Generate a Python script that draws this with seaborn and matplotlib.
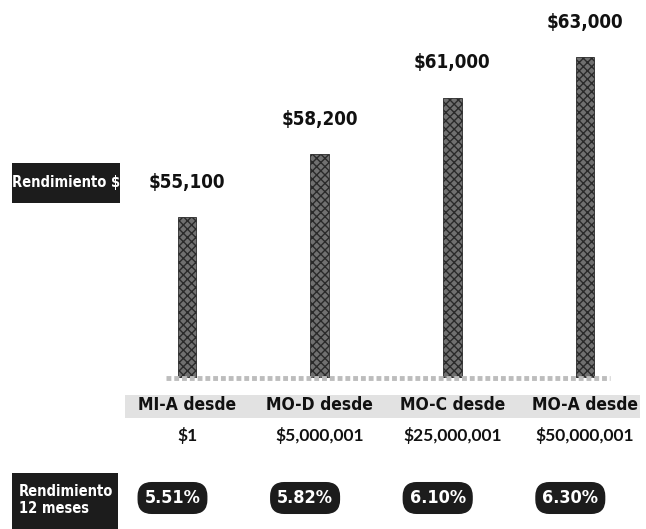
import matplotlib
matplotlib.use("Agg")
import matplotlib.pyplot as plt
import matplotlib.transforms as mtransforms
from matplotlib.patches import Rectangle
import pandas as pd
import seaborn as sns

# Data
plans = ["MI-A desde", "MO-D desde", "MO-C desde", "MO-A desde"]
plan_floor = ["$1", "$5,000,001", "$25,000,001", "$50,000,001"]
rendimiento = [55100, 58200, 61000, 63000]
rendimiento_labels = ["$55,100", "$58,200", "$61,000", "$63,000"]
rend_12m = ["5.51%", "5.82%", "6.10%", "6.30%"]

df = pd.DataFrame({"plan": plans, "rendimiento": rendimiento})

sns.set_style("white")
plt.rcParams["font.family"] = ["DejaVu Sans"]
narrow = dict(family="DejaVu Sans", fontstretch="condensed", fontweight="bold")
wide = dict(family="Lato", fontweight="bold")

W, H = 646, 529
fig = plt.figure(figsize=(W / 100, H / 100), dpi=100)
ax = fig.add_axes([0.228, 0.2854, 0.739, 0.7146])
ax.set_zorder(2)
ax.patch.set_alpha(0)


def fx(px):
    return px / W


def fy(py):
    return 1 - py / H


sns.barplot(data=df, x="plan", y="rendimiento", width=0.14, color="#707070",
            edgecolor="#2a2a2a", linewidth=0.6, ax=ax)
for p in ax.patches:
    p.set_hatch("xxxx")

ax.set_xlim(-0.3, 3.3)
ax.set_ylim(47200, 65800)
ax.set_xlabel("")
ax.set_ylabel("")
ax.set_xticks([])
ax.set_yticks([])
sns.despine(ax=ax, left=True, bottom=True)

# dotted base strip
ax.axhline(47200, xmin=0.04, xmax=0.97, color="#bdbdbd", lw=3.5, ls=(0, (1, 0.6)),
           clip_on=False)

# value labels above bars
for i, (v, lab) in enumerate(zip(rendimiento, rendimiento_labels)):
    ax.annotate(lab, (i, v), xytext=(0, 25), textcoords="offset points",
                ha="center", va="center", fontsize=13.5, color="#111111", **narrow)

# light band behind plan names
fig.patches.append(Rectangle((fx(125), fy(418)), fx(515), 23 / H,
                             transform=fig.transFigure, facecolor="#e2e2e2",
                             edgecolor="none", zorder=-1))

trans = mtransforms.blended_transform_factory(ax.transData, fig.transFigure)
for i in range(len(plans)):
    ax.text(i, fy(405), plans[i], transform=trans, ha="center", va="center",
            fontsize=12.5, color="#111111", clip_on=False, **narrow)
    ax.text(i, fy(436), plan_floor[i], transform=trans, ha="center", va="center",
            fontsize=12.5, color="#111111", clip_on=False, **wide)
    ax.text(i - 0.11, fy(498), rend_12m[i], transform=trans, ha="center",
            va="center", fontsize=13, color="white", clip_on=False,
            bbox=dict(boxstyle="round,pad=0.35,rounding_size=0.75",
                      facecolor="#1c1c1c", edgecolor="#1c1c1c"), **narrow)

# left side row headers
fig.patches.append(Rectangle((fx(12), fy(203)), fx(108), 40 / H,
                             transform=fig.transFigure, facecolor="#1c1c1c",
                             edgecolor="none"))
fig.text(fx(66), fy(183), "Rendimiento $", ha="center", va="center",
         fontsize=10.5, color="white", **narrow)

fig.patches.append(Rectangle((fx(12), 0), fx(106), fy(473),
                             transform=fig.transFigure, facecolor="#1c1c1c",
                             edgecolor="none"))
fig.text(fx(19), fy(500), "Rendimiento\n12 meses", ha="left", va="center",
         fontsize=10.5, color="white", linespacing=1.1, **narrow)

fig.savefig("out.png", dpi=100)
plt.close(fig)
